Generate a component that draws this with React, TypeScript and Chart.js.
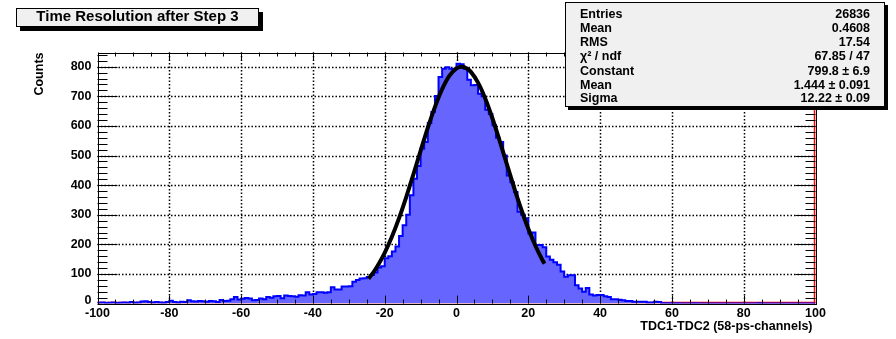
import { useEffect, useRef } from 'react';
import { Chart, registerables } from 'chart.js';
Chart.register(...registerables);

// ---------- data ----------
const xMin = -100;
const xMax = 100;
const binWidth = 1;
const yMin = 0;
const yMax = 848;

// counts per bin, bins of width 1 from -100 to 100 (left edges -100..99)
const counts = [
  3, 4, 2, 3, 4, 2, 3, 4, 3, 5,
  3, 4, 7, 8, 5, 4, 5, 4, 3, 5,
  10, 5, 4, 6, 5, 11, 8, 7, 9, 8,
  6, 9, 8, 5, 12, 9, 10, 15, 22, 14,
  16, 19, 17, 11, 12, 17, 15, 22, 20, 25,
  26, 18, 27, 26, 25, 23, 28, 27, 38, 31,
  32, 38, 38, 37, 38, 55, 48, 48, 58, 58,
  59, 74, 80, 85, 86, 90, 97, 105, 122, 126,
  153, 160, 176, 193, 228, 265, 300, 366, 422, 465,
  523, 546, 610, 647, 701, 765, 793, 798, 793, 793,
  810, 808, 793, 756, 737, 738, 709, 700, 655, 640,
  602, 560, 546, 500, 433, 410, 377, 310, 300, 288,
  237, 240, 198, 198, 190, 159, 148, 140, 131, 108,
  91, 96, 96, 62, 51, 40, 53, 31, 27, 29,
  29, 25, 22, 15, 15, 13, 11, 9, 9, 6,
  6, 6, 6, 4, 4, 6, 5, 1, 1, 1,
  0, 1, 0, 0, 0, 0, 1, 0, 0, 0,
  0, 0, 0, 0, 0, 0, 0, 0, 0, 0,
  0, 0, 0, 0, 1, 0, 0, 0, 0, 0,
  0, 0, 0, 0, 0, 0, 0, 0, 0, 0,
];

// Gaussian fit curve samples (Constant 799.8, Mean 1.444, Sigma 12.22)
const fitX = [-24.5, -23, -22, -20, -18, -16, -14, -12, -10, -8, -6, -4, -2, 0, 1.444, 3, 4, 6, 8, 10, 12, 14, 16, 18, 20, 22, 24, 24.5];
const fitY = [84, 108.2, 127, 171.5, 225.6, 288.7, 359.8, 436.7, 515.9, 593.3, 664.4, 724.2, 768.7, 794.2, 799.8, 793.3, 782.5, 746.1, 692.6, 625.9, 550.7, 471.7, 393.4, 319.4, 252.5, 194.4, 145.6, 134.9];

const xMajorTicks = [-100, -80, -60, -40, -20, 0, 20, 40, 60, 80, 100];
const xMinorStep = 5;
const yMajorTicks = [0, 100, 200, 300, 400, 500, 600, 700, 800];
const yMinorStep = 20;

const titleText = 'Time Resolution after Step 3';
const xTitle = 'TDC1-TDC2 (58-ps-channels)';
const yTitle = 'Counts';
const statLabels = ['Entries', 'Mean', 'RMS', 'χ² / ndf', 'Constant', 'Mean', 'Sigma'];
const statValues = ['26836', '0.4608', '17.54', '67.85 / 47', '799.8 ± 6.9', '1.444 ± 0.091', '12.22 ± 0.09'];

const FONT = "'Liberation Sans', Arial, Helvetica, sans-serif";

function line(ctx: CanvasRenderingContext2D, x1: number, y1: number, x2: number, y2: number) {
  ctx.beginPath();
  ctx.moveTo(x1, y1);
  ctx.lineTo(x2, y2);
  ctx.stroke();
}

function shadowBox(ctx: CanvasRenderingContext2D, x: number, y: number, w: number, h: number, s: number) {
  ctx.fillStyle = '#000';
  ctx.fillRect(x + s, y + s, w, h);
  ctx.fillStyle = '#f0f0f0';
  ctx.fillRect(x, y, w, h);
  ctx.strokeStyle = '#000';
  ctx.lineWidth = 1;
  ctx.strokeRect(x + 0.5, y + 0.5, w - 1, h - 1);
}

const rootPlugin = {
  id: 'rootStyle',
  beforeDraw(chart: any) {
    const { ctx, width, height } = chart;
    ctx.save();
    ctx.fillStyle = '#fff';
    ctx.fillRect(0, 0, width, height);
    ctx.restore();
  },
  beforeDatasetsDraw(chart: any) {
    const { ctx, chartArea: a, scales } = chart;
    const xs = scales.x;
    const ys = scales.y;
    ctx.save();
    ctx.strokeStyle = '#000';
    ctx.lineWidth = 1.5;
    ctx.setLineDash([1.5, 2]);
    xMajorTicks.forEach((v) => {
      if (v <= xMin || v >= xMax) return;
      const px = Math.round(xs.getPixelForValue(v)) + 0.5;
      line(ctx, px, a.top, px, a.bottom);
    });
    yMajorTicks.forEach((v) => {
      if (v <= yMin) return;
      const py = Math.round(ys.getPixelForValue(v)) + 0.5;
      line(ctx, a.left, py, a.right, py);
    });
    ctx.setLineDash([]);
    ctx.strokeStyle = '#ff0000';
    ctx.lineWidth = 1.5;
    line(ctx, a.left, a.bottom - 1, a.right, a.bottom - 1);
    line(ctx, a.right - 1, a.top + 50, a.right - 1, a.bottom);
    ctx.restore();
  },
  afterDatasetsDraw(chart: any) {
    const { ctx, chartArea: a, scales } = chart;
    const xs = scales.x;
    const ys = scales.y;
    ctx.save();
    // frame
    ctx.strokeStyle = '#000';
    ctx.lineWidth = 1;
    ctx.strokeRect(Math.round(a.left) + 0.5, Math.round(a.top) + 0.5, Math.round(a.right - a.left), Math.round(a.bottom - a.top));
    // x ticks
    for (let v = xMin; v <= xMax + 1e-9; v += xMinorStep) {
      const major = xMajorTicks.includes(v);
      const len = major ? 8 : 4;
      const px = Math.round(xs.getPixelForValue(v)) + 0.5;
      line(ctx, px, a.bottom, px, a.bottom - len);
      line(ctx, px, a.top, px, a.top + len);
    }
    // y ticks
    for (let v = yMin; v <= yMax; v += yMinorStep) {
      const major = yMajorTicks.includes(v);
      const len = major ? 20 : 10;
      const py = Math.round(ys.getPixelForValue(v)) + 0.5;
      line(ctx, a.left, py, a.left + len, py);
      line(ctx, a.right, py, a.right - len, py);
    }
    // tick labels
    ctx.fillStyle = '#000';
    ctx.font = `bold 12.5px ${FONT}`;
    ctx.textAlign = 'right';
    ctx.textBaseline = 'middle';
    yMajorTicks.forEach((v) => {
      const py = ys.getPixelForValue(v);
      ctx.fillText(String(v), a.left - 6, v === 0 ? py - 3 : py);
    });
    ctx.textAlign = 'center';
    xMajorTicks.forEach((v) => {
      const px = xs.getPixelForValue(v);
      ctx.fillText(String(v), px, a.bottom + 10);
    });
    // axis titles
    ctx.font = `bold 12.5px ${FONT}`;
    ctx.textAlign = 'right';
    ctx.fillText(xTitle, a.right - 3, a.bottom + 23);
    ctx.save();
    ctx.translate(40, a.top);
    ctx.rotate(-Math.PI / 2);
    ctx.textAlign = 'right';
    ctx.fillText(yTitle, 0, 0);
    ctx.restore();
    // title box
    shadowBox(ctx, 16, 8, 243, 19, 4);
    ctx.fillStyle = '#000';
    ctx.font = `bold 15px ${FONT}`;
    ctx.textAlign = 'center';
    ctx.textBaseline = 'middle';
    ctx.fillText(titleText, 137.5, 17);
    // stats box
    shadowBox(ctx, 565, 2, 320, 105, 3);
    ctx.fillStyle = '#000';
    ctx.font = `bold 12.5px ${FONT}`;
    const rowY = [15, 29, 42.5, 57, 72, 86, 99];
    statLabels.forEach((t, i) => {
      ctx.textAlign = 'left';
      ctx.fillText(t, 580, rowY[i]);
      ctx.textAlign = 'right';
      ctx.fillText(statValues[i], 870, rowY[i]);
    });
    ctx.restore();
  },
};

export default function App() {
  const ref = useRef<HTMLCanvasElement | null>(null);
  useEffect(() => {
    document.body.style.margin = '0';
    const canvas = ref.current;
    if (!canvas) return;
    const histPoints: { x: number; y: number }[] = [{ x: xMin, y: 0 }];
    counts.forEach((c, i) => histPoints.push({ x: xMin + i * binWidth, y: c }));
    histPoints.push({ x: xMin + counts.length * binWidth, y: counts[counts.length - 1] });
    histPoints.push({ x: xMin + counts.length * binWidth, y: 0 });
    const fitPoints = fitX.map((x, i) => ({ x, y: fitY[i] }));

    const chart = new Chart(canvas, {
      type: 'line',
      data: {
        datasets: [
          {
            data: fitPoints,
            borderColor: '#000',
            borderWidth: 4,
            pointRadius: 0,
            fill: false,
            cubicInterpolationMode: 'monotone',
            order: 0,
          },
          {
            data: histPoints,
            borderColor: '#0000ff',
            backgroundColor: '#6666ff',
            borderWidth: 2,
            pointRadius: 0,
            stepped: 'before',
            fill: 'origin',
            order: 1,
          },
        ],
      },
      options: {
        responsive: false,
        animation: false,
        devicePixelRatio: 1,
        layout: { padding: { left: 97.5, right: 80.5, top: 52.5, bottom: 35.4 } },
        plugins: { legend: { display: false }, tooltip: { enabled: false } },
        scales: {
          x: {
            type: 'linear',
            min: xMin,
            max: xMax,
            ticks: { display: false },
            grid: { display: false, drawTicks: false },
            border: { display: false },
            afterFit: (s: any) => { s.height = 0; },
          },
          y: {
            type: 'linear',
            min: yMin,
            max: yMax,
            ticks: { display: false },
            grid: { display: false, drawTicks: false },
            border: { display: false },
            afterFit: (s: any) => { s.width = 0; },
          },
        },
      } as any,
      plugins: [rootPlugin],
    });
    return () => chart.destroy();
  }, []);
  return <canvas ref={ref} width={896} height={339} style={{ display: 'block' }} />;
}
